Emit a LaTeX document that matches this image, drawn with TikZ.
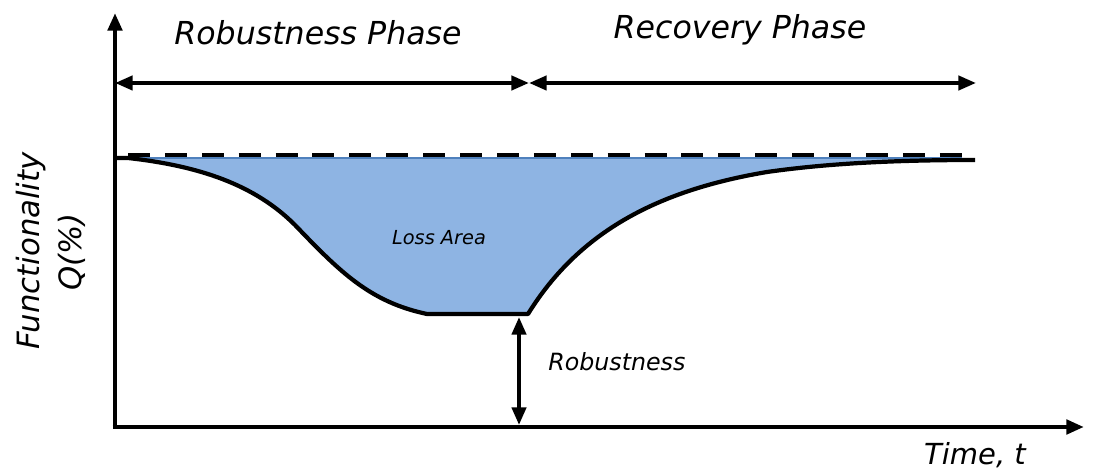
\documentclass[tikz,border=0pt]{standalone}
\usepackage{fontspec}
\setmainfont{DejaVu Sans}
\usepackage{tikz}
\usetikzlibrary{arrows.meta}
\definecolor{lossblue}{HTML}{8EB4E3}
\definecolor{lossedge}{HTML}{4F81BD}
\tikzstyle{axis_line} = [line width=2.8pt, -{Triangle[length=10pt,width=8pt]}]
\tikzstyle{phase_arrow} = [line width=2.2pt, {Triangle[length=10pt,width=8pt]}-{Triangle[length=10pt,width=8pt]}]
\tikzstyle{curve_line} = [line width=2.4pt, line join=round]
\tikzstyle{full_line} = [line width=2.6pt, dash pattern=on 12.5pt off 8.5pt]
\tikzstyle{label_big} = [font=\fontsize{18}{21}\selectfont\itshape, inner sep=0pt]
\tikzstyle{label_small} = [font=\fontsize{13.5}{15}\selectfont\itshape, inner sep=0pt]

\begin{document}
\begin{tikzpicture}[x=0.02cm, y=-0.02cm]
\useasboundingbox (0,0) rectangle (1094,472);

\coordinate (O) at (115,427);
\coordinate (Ytop) at (115,13);
\coordinate (Xend) at (1084,427);
\coordinate (Pl) at (115,83);
\coordinate (Pm) at (529,83);
\coordinate (Pr) at (976,83);
\coordinate (Rtop) at (519,317);
\coordinate (Rbot) at (519,425);

% loss area
\fill[lossblue] (128,158) .. controls (200,166) and (255,185) .. (295,225)
  .. controls (340,272) and (370,302) .. (427,314) -- (528,314)
  .. controls (580,230) and (660,190) .. (767,172)
  .. controls (830,163) and (900,160) .. (962,158) -- cycle;
\draw[lossedge, line width=0.6pt] (128,158) -- (962,158);

% functionality curve
\draw[curve_line] (115,158) -- (128,158) .. controls (200,166) and (255,185) .. (295,225)
  .. controls (340,272) and (370,302) .. (427,314) -- (528,314)
  .. controls (580,230) and (660,190) .. (767,172)
  .. controls (830,163) and (900,160) .. (975,160);
\draw[full_line] (128,155) -- (975,155);

\draw[axis_line] (O)--(Ytop);
\draw[axis_line] ([xshift=-1.4pt]O)--(Xend);

\draw[phase_arrow] (Pl)--(Pm);
\draw[phase_arrow] (Pm)--(Pr);
\draw[phase_arrow] (Rtop)--(Rbot);

\node (rob_phase) at (318,33) [label_big] {Robustness Phase};
\node (rec_phase) at (740,30) [label_big] {Recovery Phase};
\node (loss) at (439,238) [label_small, font=\fontsize{11}{13}\selectfont\itshape] {Loss Area};
\node (rob) at (548,362) [label_small, anchor=west] {Robustness};
\node (func) at (31,251) [label_big, rotate=90, font=\fontsize{17.5}{20}\selectfont\itshape] {Functionality};
\node (qpct) at (72,252) [label_big, rotate=90, font=\fontsize{17.5}{20}\selectfont\itshape] {Q(\%)};
\node (time) at (975,455) [label_big, font=\fontsize{16.5}{20}\selectfont\itshape] {Time, t};
\end{tikzpicture}
\end{document}
